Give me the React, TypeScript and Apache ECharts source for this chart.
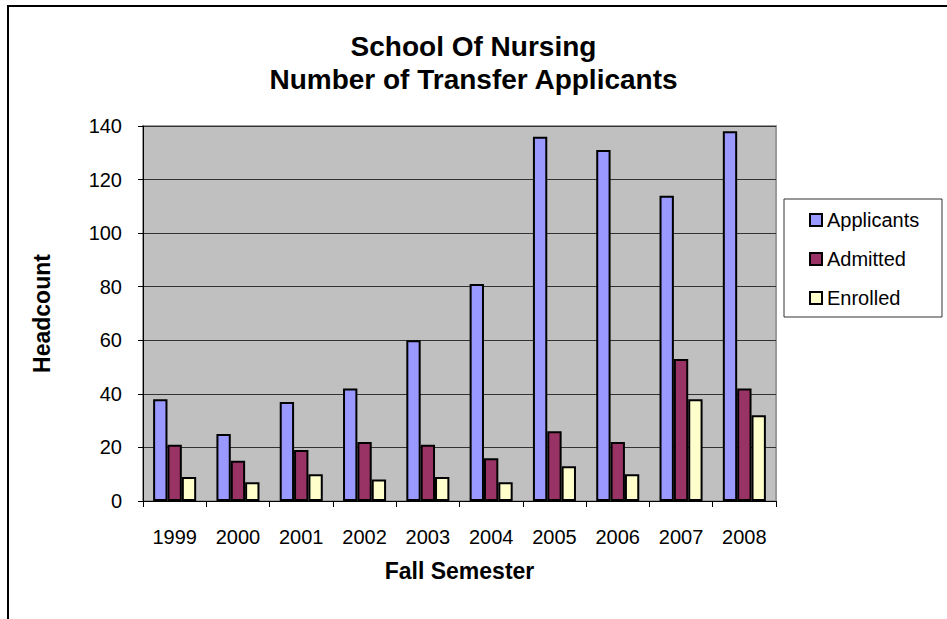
import React, { useEffect, useRef } from "react";
import * as echarts from "echarts";

const categories = ["1999", "2000", "2001", "2002", "2003", "2004", "2005", "2006", "2007", "2008"];
const applicants = [38, 25, 37, 42, 60, 81, 136, 131, 114, 138];
const admitted = [21, 15, 19, 22, 21, 16, 26, 22, 53, 42];
const enrolled = [9, 7, 10, 8, 9, 7, 13, 10, 38, 32];
const seriesNames = ["Applicants", "Admitted", "Enrolled"];
const seriesColors = ["#9999FF", "#993366", "#FFFFCC"];
const titleText = "School Of Nursing\nNumber of Transfer Applicants";
const xName = "Fall Semester";
const yName = "Headcount";

const FONT = "'Liberation Sans', Arial, sans-serif";

export default function App() {
  const ref = useRef<HTMLDivElement>(null);
  useEffect(() => {
    if (!ref.current) return;
    const chart = echarts.init(ref.current, undefined, { renderer: "svg" });
    const data = [applicants, admitted, enrolled];
    chart.setOption({
      animation: false,
      backgroundColor: "#ffffff",
      textStyle: { fontFamily: FONT },
      title: {
        text: titleText,
        left: "center",
        top: 30,
        padding: 0,
        textStyle: { fontFamily: FONT, fontSize: 28, fontWeight: "bold", color: "#000", lineHeight: 33 },
      },
      graphic: [
        {
          type: "rect",
          shape: { x: 8, y: 6, width: 1200, height: 1000 },
          style: { fill: "none", stroke: "#000", lineWidth: 2 },
          silent: true,
        },
        {
          type: "rect",
          shape: { x: 784, y: 199, width: 158, height: 118 },
          style: { fill: "#fff", stroke: "#333", lineWidth: 1 },
          silent: true,
          z: 0,
        },
      ],
      legend: {
        data: seriesNames,
        orient: "vertical",
        left: 809,
        top: 209,
        padding: 0,
        itemGap: 17,
        itemWidth: 12,
        itemHeight: 12,
        icon: "rect",
        itemStyle: { borderColor: "#000", borderWidth: 2 },
        textStyle: { fontFamily: FONT, fontSize: 20, color: "#000", lineHeight: 22 },
        z: 5,
      },
      grid: {
        left: 143,
        top: 126,
        right: 171,
        bottom: 118,
        show: true,
        backgroundColor: "#C0C0C0",
        borderColor: "#9a9a9a",
        borderWidth: 2,
      },
      xAxis: {
        type: "category",
        data: categories,
        name: xName,
        nameLocation: "middle",
        nameGap: 58,
        nameTextStyle: { fontFamily: FONT, fontSize: 23, fontWeight: "bold", color: "#000" },
        axisLine: { show: true, lineStyle: { color: "#000", width: 1 } },
        axisTick: { show: true, inside: false, length: 6, alignWithLabel: false, lineStyle: { color: "#000" } },
        axisLabel: { fontFamily: FONT, fontSize: 20, color: "#000", margin: 26 },
        splitLine: { show: false },
      },
      yAxis: {
        type: "value",
        min: 0,
        max: 140,
        interval: 20,
        name: yName,
        nameLocation: "middle",
        nameGap: 90,
        nameRotate: 90,
        nameTextStyle: { fontFamily: FONT, fontSize: 23, fontWeight: "bold", color: "#000" },
        axisLine: { show: true, lineStyle: { color: "#000", width: 1 } },
        axisTick: { show: true, inside: false, length: 5, lineStyle: { color: "#000" } },
        axisLabel: { fontFamily: FONT, fontSize: 20, color: "#000", margin: 21 },
        splitLine: { show: true, lineStyle: { color: "#333", width: 1 } },
      },
      series: seriesNames.map((name, i) => ({
        name,
        type: "bar",
        data: data[i],
        barGap: "0%",
        barCategoryGap: "32%",
        itemStyle: { color: seriesColors[i], borderColor: "#000", borderWidth: 2 },
      })),
    });
    return () => chart.dispose();
  }, []);
  return (
    <div
      ref={ref}
      style={{ position: "fixed", left: 0, top: 0, width: 947, height: 619 }}
    />
  );
}
